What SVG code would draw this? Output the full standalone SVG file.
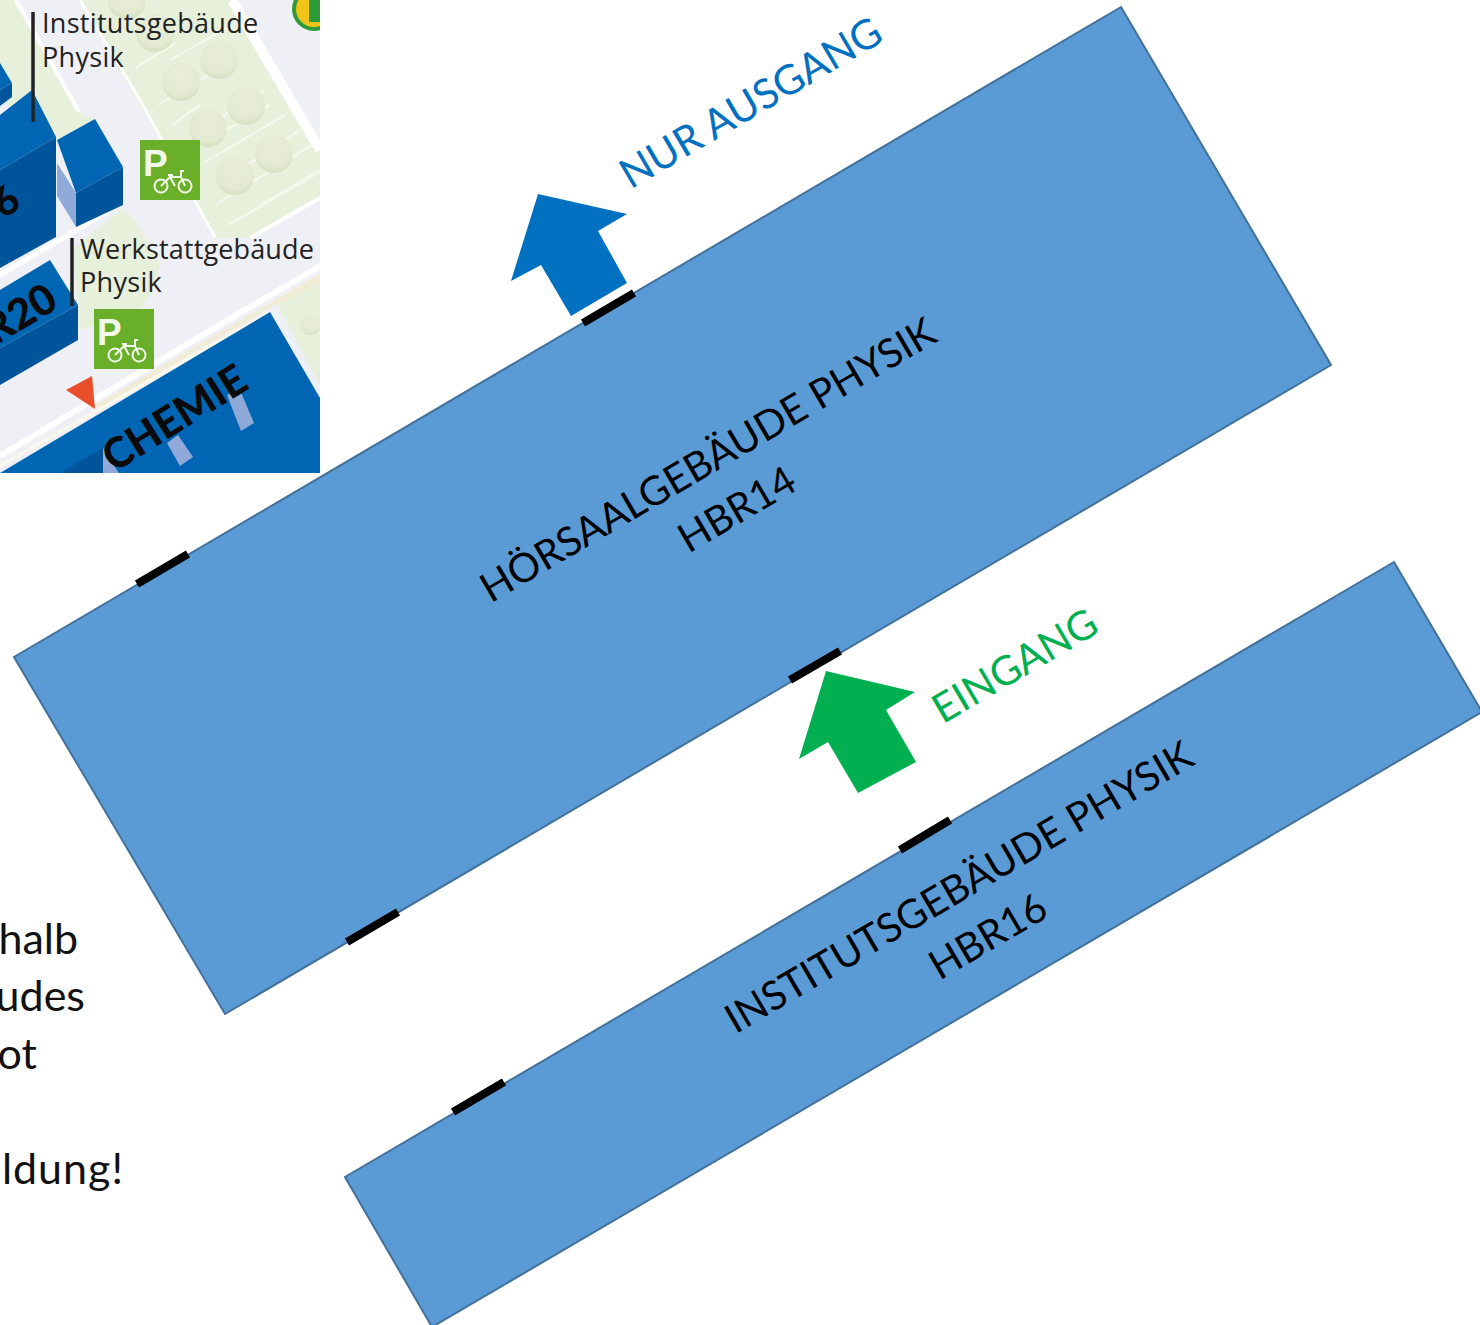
<svg xmlns="http://www.w3.org/2000/svg" width="1480" height="1325" viewBox="0 0 1480 1325">
<style>
.b{fill:#5B9BD5;stroke:#41719C;stroke-width:2}
.t{font-family:Lato,"Open Sans",sans-serif;font-size:40.7px;text-anchor:middle}
.n{fill:#000;font-size:40.2px}
.door{stroke:#000;stroke-width:8;fill:none}
.m{font-family:"Open Sans",sans-serif;font-size:27px;letter-spacing:.3px;fill:#222}
.st{stroke:#F4F8EC;stroke-width:2.5;fill:none}
.dk{fill:#00559A}.md{fill:#0066B3}.lt{fill:#8FAAD8}
.side{font-family:Lato,"Open Sans",sans-serif;font-size:43px;fill:#111;text-anchor:end}
.pk{fill:#6AAF2A}.pw{stroke:#F2F8EA;stroke-width:2;fill:none}
.bp{font-family:"Liberation Sans",sans-serif;font-weight:bold;font-size:37px;fill:#F2F8EA}
.bl{font-family:Lato,"Open Sans",sans-serif;font-weight:900;fill:#0a0a0a}
</style>
<defs><clipPath id="mc"><rect width="320" height="473"/></clipPath>
<filter id="soft" x="-2%" y="-2%" width="104%" height="104%"><feGaussianBlur stdDeviation="0.5"/></filter>
<radialGradient id="tg" cx=".5" cy=".35" r=".7"><stop offset="0" stop-color="#E8EEDA"/><stop offset=".7" stop-color="#E3EAD2"/><stop offset="1" stop-color="#D0DAB8"/></radialGradient>
<g id="pk"><rect width="60" height="60" class="pk"/><text x="3" y="36" class="bp">P</text><circle cx="21" cy="46" r="6.5" class="pw"/><circle cx="45" cy="46" r="6.5" class="pw"/><path d="M21 46l9-9h11l4 9M30 37l5 9M28 35h5M40 31h4M41 31v6" class="pw"/></g></defs>
<rect width="1480" height="1325" fill="#fff"/>
<g id="map" clip-path="url(#mc)">
<g filter="url(#soft)">
<rect width="320" height="473" fill="#EFF0F5"/>
<path d="M0 0H16L80 113 95 119 57 140 0 100Z" fill="#E6F0DA"/>
<path d="M16 0L79 112" stroke="#fff" stroke-width="4" fill="none"/>
<path d="M80 0H230L320 150V198L250 238H215Z" fill="#E6F0DA"/>
<path d="M80 0L140 100 215 237" stroke="#fff" stroke-width="3" fill="none"/>
<path d="M232 0L320 150" stroke="#fff" stroke-width="10" fill="none"/>
<path d="M250 238L320 198" stroke="#fff" stroke-width="4" fill="none"/>
<path d="M72 250L123 208 135 220 160 265 150 295 138 312 80 330 78 300Z" fill="#E6F0DA"/>
<path d="M0 275L60 240 110 210" stroke="#fff" stroke-width="5" fill="none"/>
<path d="M275 300L320 274V385Z" fill="#E6F0DA"/>
<path d="M0 456L157 362 320 266" stroke="#fff" stroke-width="6" fill="none"/>
<path d="M90 408L255 312 320 274V284L270 308 105 405Z" fill="#F1ECD6"/>
<path d="M0 466L270 312" stroke="#FBF8EC" stroke-width="3" fill="none"/>
<g class="st"><path d="M135 68L175 43M170 60L250 15M158 105L220 68M172 125L200 105M203 128L265 90M200 145L270 105M205 162L285 115M240 170L300 130M215 205L312 145M260 205L320 170M228 225L320 172"/></g>
<g fill="url(#tg)"><circle cx="127" cy="0" r="19"/><circle cx="155" cy="33" r="19"/><circle cx="181" cy="82" r="19"/><circle cx="219" cy="60" r="19"/><circle cx="246" cy="106" r="19"/><circle cx="208" cy="128" r="19"/><circle cx="274" cy="154" r="19"/><circle cx="235" cy="176" r="19"/><circle cx="310" cy="325" r="10"/></g>
<path d="M0 63L12 83 0 90Z" class="md"/>
<path d="M0 90L12 83V97L0 106Z" class="dk"/>
<path d="M0 115L32 90 56 137 0 170Z" class="md"/>
<path d="M0 170L56 137V237L0 268Z" class="dk"/>
<path d="M57 140L95 119 123 167 76 193Z" class="md"/>
<path d="M76 193L123 167V205L76 227Z" class="dk"/>
<path d="M57 163L76 193V227L57 196Z" class="lt"/>
<path d="M0 290L50 260 78 305 0 348Z" class="md"/>
<path d="M0 348L78 305V340L0 385Z" class="dk"/>
<path d="M0 473L270 312 320 398V473Z" class="md"/>
<path d="M57 475L103 448V475Z" class="dk"/>
<path d="M103 448L120 475H103Z" class="lt"/>
<path d="M167 443L178 435 193 457 180 466Z M227 395L240 390 254 423 241 431Z" class="lt"/>
<path d="M66 390L92 376 95 409Z" fill="#E8502A"/>
<path d="M33 12V122M72 238V306" stroke="#222" stroke-width="3.5" fill="none"/>
</g>
<text class="m" x="42" y="33">Institutsgebäude</text><text class="m" x="42" y="67">Physik</text>
<text class="m" x="80" y="259" style="letter-spacing:.15px">Werkstattgebäude</text><text class="m" x="80" y="292">Physik</text>
<text class="bl" font-size="42" transform="translate(114 473) rotate(-32)">CHEMIE</text>
<text class="bl" font-size="42" transform="translate(-5 346) rotate(-31)">R20</text>
<text class="bl" font-size="40" transform="translate(3 219) rotate(-31)">6</text>
<use href="#pk" x="140" y="140"/><use href="#pk" x="94" y="309"/>
<circle cx="314" cy="9" r="20" fill="#F2C318" stroke="#2E9A3A" stroke-width="4"/>
<rect x="309" y="0" width="11" height="22" fill="#2E9A3A"/>
</g>
<g id="side-text"><text class="side" x="78" y="954">halb</text><text class="side" x="85" y="1011">udes</text><text class="side" x="37" y="1069">ot</text><text class="side" x="124" y="1184" letter-spacing="1">ldung!</text></g>
<g id="hbr14"><path class="b" d="M1121 7L1331 365 225 1014 14 657Z"/>
<text class="t n" transform="translate(715 472) rotate(-30.4)"><tspan x="0" y="0">HÖRSAALGEBÄUDE PHYSIK</tspan><tspan x="0" y="57">HBR14</tspan></text></g>
<g id="hbr16"><path class="b" d="M1394 562L1482 712 432 1327 345 1177Z"/>
<text class="t n" transform="translate(966 899) rotate(-30.4)"><tspan x="0" y="0">INSTITUTSGEBÄUDE PHYSIK</tspan><tspan x="0" y="57">HBR16</tspan></text></g>
<g id="connectors">
<path class="door" d="M137 584L188 554M347 942L398 912M583 323L634 293M790 680L840 651M900 850L950 820M453 1112L504 1082"/>
<path d="M511 281L538 194 627 214 598 231 627 283 571 316 541 265Z" fill="#0070C0"/>
<path d="M799 759L826 671 915 692 886 710 916 762 858 793 828 742Z" fill="#00B050"/>
</g>
<g id="label-out"><text class="t" fill="#0070C0" style="font-size:41.2px" transform="translate(758 115) rotate(-30.4)">NUR AUSGANG</text></g>
<g id="label-in"><text class="t" fill="#00B050" transform="translate(1022 678) rotate(-30.4)">EINGANG</text></g>
</svg>
